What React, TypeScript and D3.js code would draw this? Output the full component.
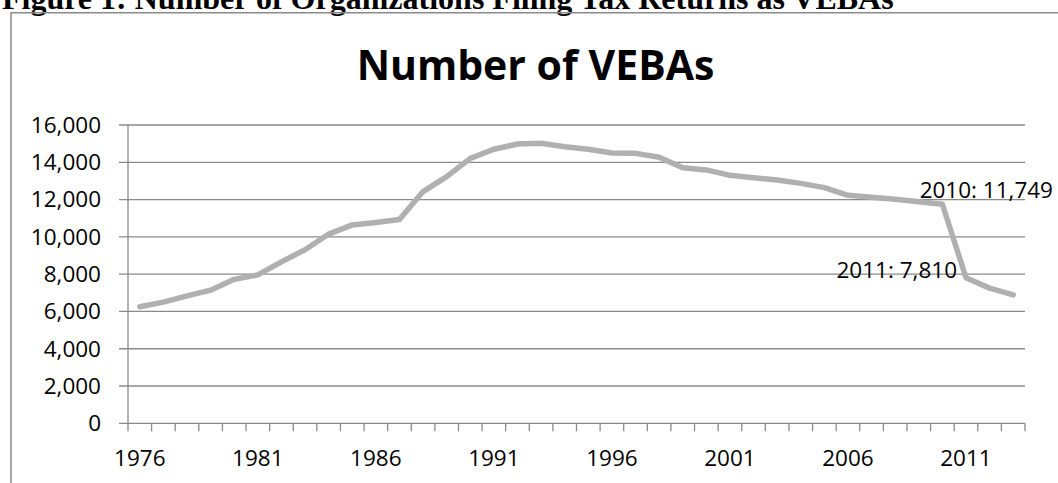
import React from "react";
import * as d3 from "d3";

const years: number[] = d3.range(1976, 2014);
const vebaCounts: number[] = [
  6250, 6500, 6830, 7140, 7720, 7960, 8660, 9310, 10150, 10640,
  10770, 10930, 12430, 13230, 14210, 14700, 14980, 15020, 14830, 14700,
  14500, 14480, 14270, 13710, 13590, 13300, 13175, 13050, 12870, 12640,
  12230, 12120, 12020, 11880, 11749, 7810, 7250, 6890,
];
const yTicks: number[] = [0, 2000, 4000, 6000, 8000, 10000, 12000, 14000, 16000];
const xLabelYears: number[] = [1976, 1981, 1986, 1991, 1996, 2001, 2006, 2011];
const annotations: { year: number; text: string }[] = [
  { year: 2010, text: "2010: 11,749" },
  { year: 2011, text: "2011: 7,810" },
];

const W = 1058;
const H = 483;
const left = 128;
const right = 1025;
const top = 125;
const bottom = 423.3;
const font = "'Open Sans', sans-serif";
const gridColor = "#8a8a8a";
const lineColor = "#b0b0b0";
const labelSize = 22.5;

export default function App() {
  const x = d3.scaleBand<number>().domain(years).range([left, right]).paddingInner(0).paddingOuter(0);
  const y = d3.scaleLinear().domain([0, 16000]).range([bottom, top]);
  const bw = x.bandwidth();
  const cx = (yr: number) => (x(yr) as number) + bw / 2;
  const line = d3
    .line<number>()
    .x((_, i) => cx(years[i]))
    .y((d) => y(d));
  const fmt = d3.format(",");
  const tickXs = years.map((yr) => x(yr) as number).concat([right]);
  const val = (yr: number) => vebaCounts[years.indexOf(yr)];

  return (
    <svg
      width={W}
      height={H}
      style={{ position: "absolute", left: 0, top: 0, background: "#fff" }}
    >
      <text
        x={2}
        y={9}
        fontFamily="'Liberation Serif', 'Times New Roman', serif"
        fontWeight="bold"
        fontSize={32}
        fill="#000"
      >
        Figure 1: Number of Organizations Filing Tax Returns as VEBAs
      </text>
      <path d={`M11,${H + 5} L11,12.7 L${W + 5},12.7`} fill="none" stroke={gridColor} strokeWidth={1.5} />
      <text
        x={535.5}
        y={80}
        textAnchor="middle"
        fontFamily={font}
        fontWeight="bold"
        fontSize={41}
        fill="#000"
      >
        Number of VEBAs
      </text>
      {yTicks.map((t) => (
        <g key={t}>
          <line x1={left - 9} x2={right} y1={y(t)} y2={y(t)} stroke={gridColor} strokeWidth={1.3} />
          <text
            x={101}
            y={y(t)}
            dy="0.35em"
            textAnchor="end"
            fontFamily={font}
            fontSize={labelSize}
            fill="#000"
          >
            {fmt(t)}
          </text>
        </g>
      ))}
      <line x1={left} x2={left} y1={top} y2={bottom} stroke={gridColor} strokeWidth={1.3} />
      {tickXs.map((tx, i) => (
        <line key={i} x1={tx} x2={tx} y1={bottom} y2={bottom + 8} stroke={gridColor} strokeWidth={1.3} />
      ))}
      {xLabelYears.map((yr) => (
        <text
          key={yr}
          x={cx(yr)}
          y={465.5}
          textAnchor="middle"
          fontFamily={font}
          fontSize={labelSize}
          fill="#000"
        >
          {yr}
        </text>
      ))}
      <path
        d={line(vebaCounts) || ""}
        fill="none"
        stroke={lineColor}
        strokeWidth={5.5}
        strokeLinejoin="round"
        strokeLinecap="round"
      />
      {annotations.map((a) => (
        <text
          key={a.year}
          x={a.year === 2010 ? 1053 : 957}
          y={y(val(a.year)) + (a.year === 2010 ? -6 : 0)}
          textAnchor="end"
          fontFamily={font}
          fontSize={labelSize}
          fill="#000"
        >
          {a.text}
        </text>
      ))}
    </svg>
  );
}
